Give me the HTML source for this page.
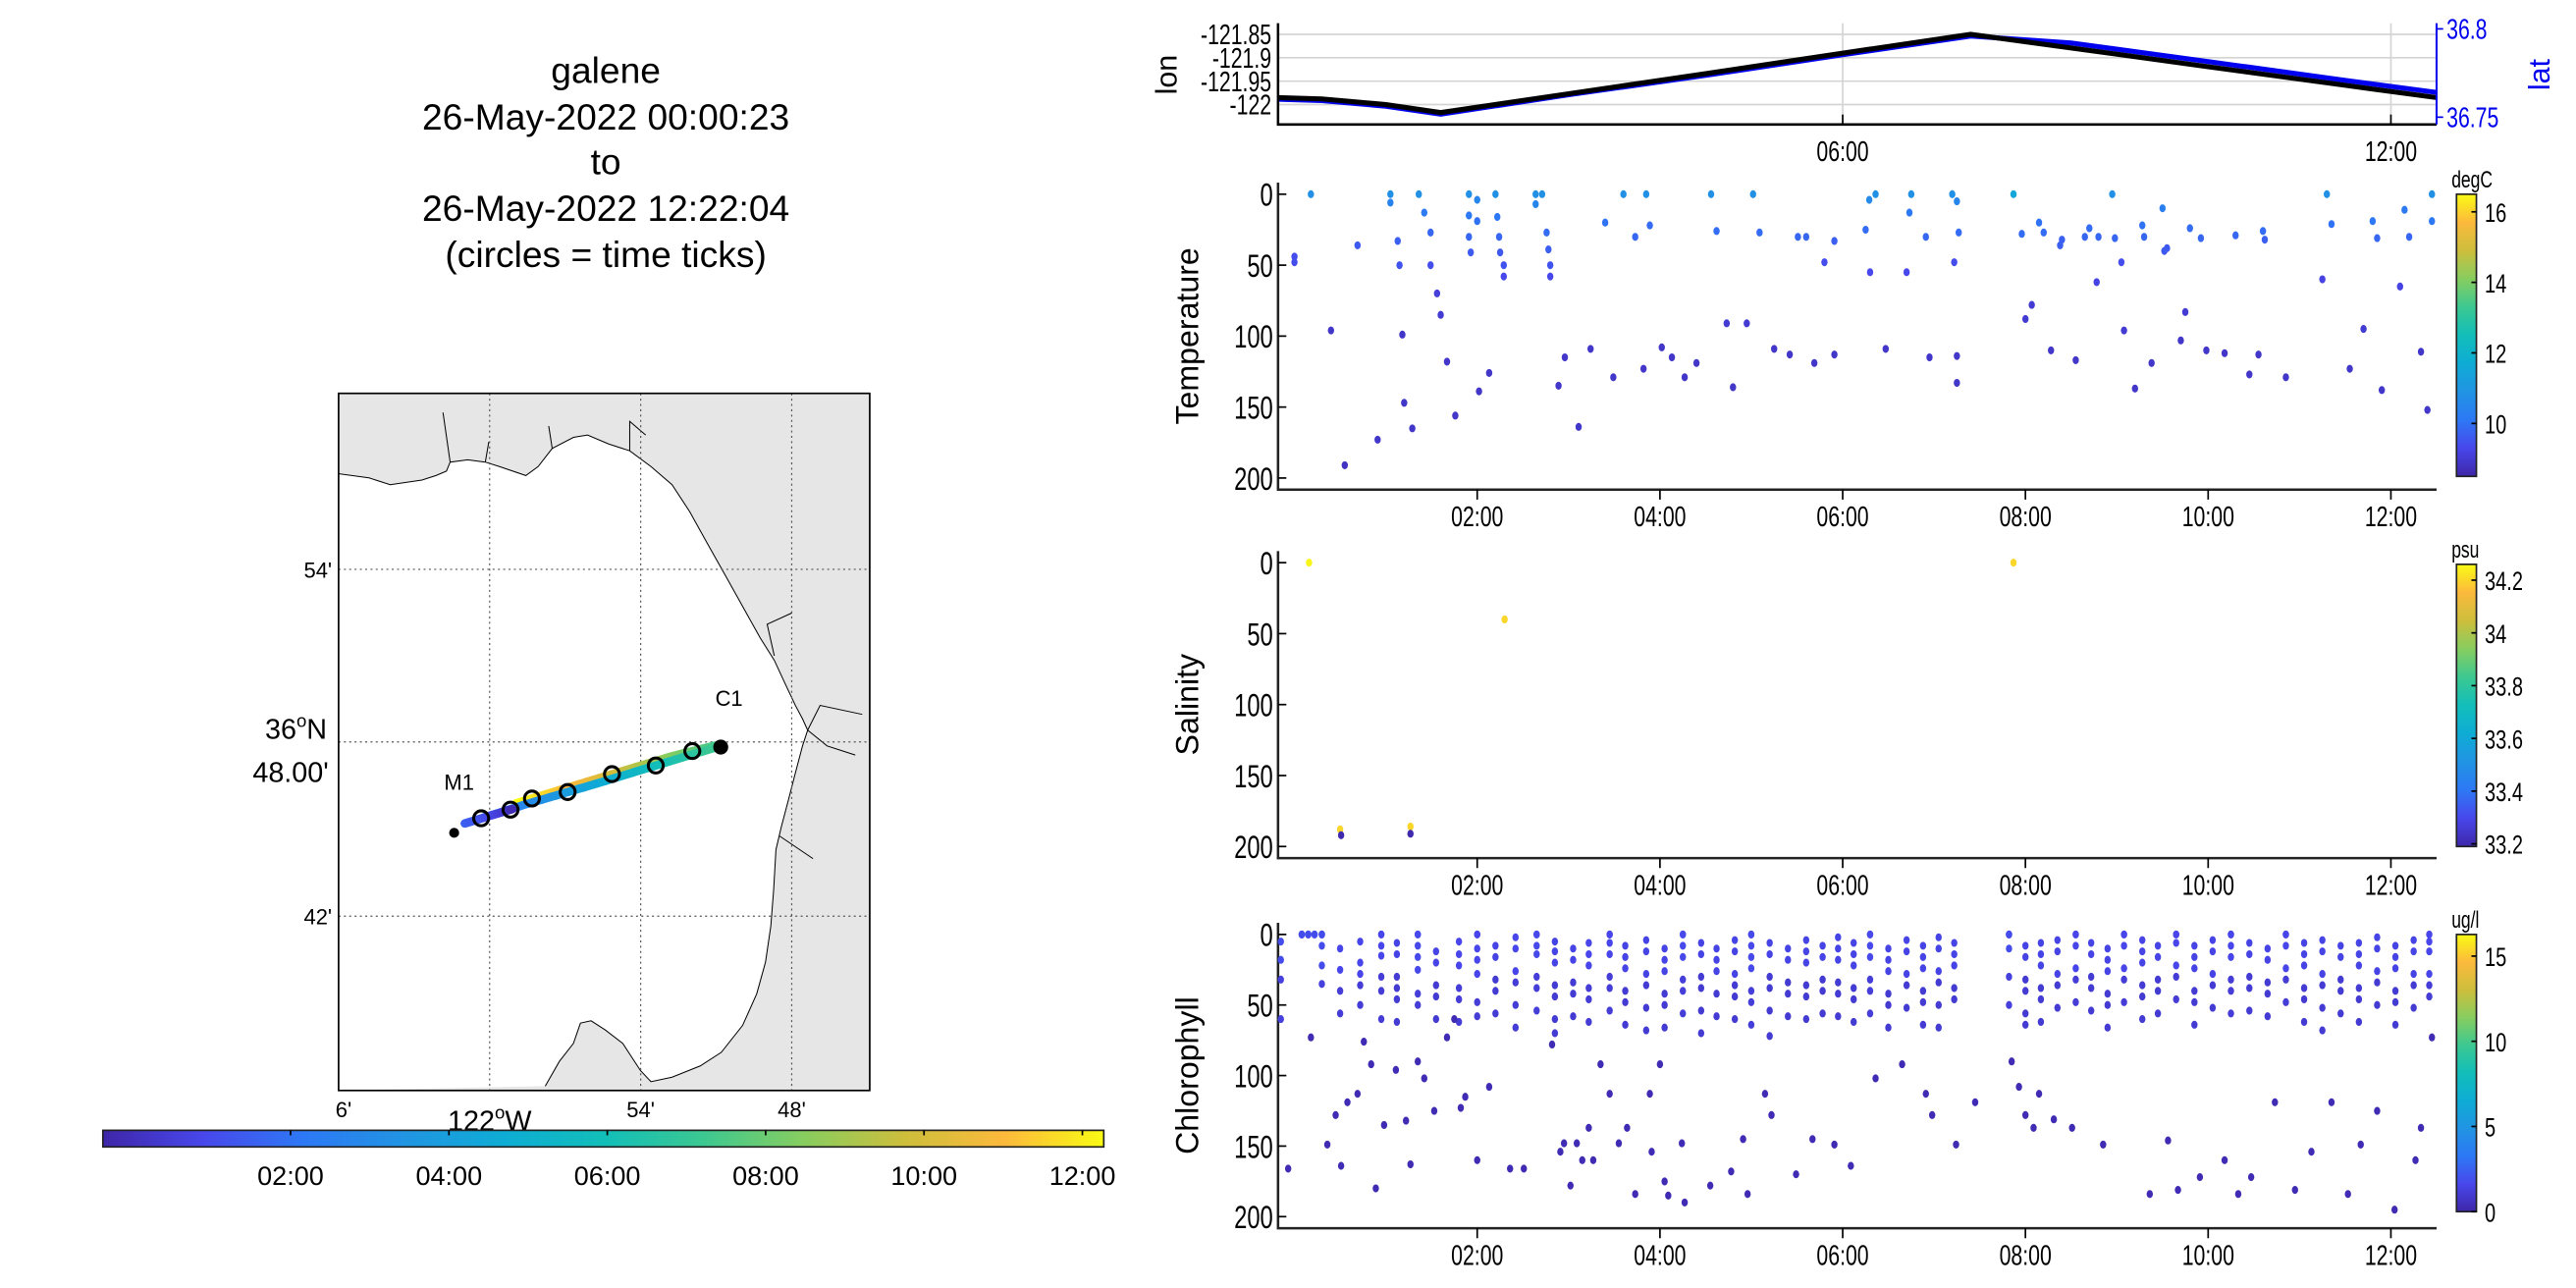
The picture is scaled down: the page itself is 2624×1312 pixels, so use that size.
<!DOCTYPE html>
<html><head><meta charset="utf-8"><title>galene chart</title>
<style>
html,body{margin:0;padding:0;background:#fff;}
svg{display:block;font-family:"Liberation Sans",sans-serif;}
</style></head>
<body>
<svg id="root" xmlns="http://www.w3.org/2000/svg" width="2624" height="1312" viewBox="0 0 1552 776">
<rect x="0" y="0" width="1552" height="776" fill="#fff"/>
<g font-family="Liberation Sans, sans-serif" font-size="22" text-anchor="middle" fill="#000">
<text x="365" y="50">galene</text>
<text x="365" y="78">26-May-2022 00:00:23</text>
<text x="365" y="105">to</text>
<text x="365" y="133">26-May-2022 12:22:04</text>
<text x="365" y="161">(circles = time ticks)</text>
</g>
<g id="map"></g>
<g id="hcbar"></g>
<g id="top"></g>
<g id="temp"></g>
<g id="sal"></g>
<g id="chl"></g>
</svg>
<script>
// ---- data ----
const trackTimes = [-0.18, 0.3, 1.0, 1.6, 3.0, 4.5, 6.0, 7.4, 8.5, 10.0, 11.5, 12.5];
const trackLon = [-121.985, -121.988, -122.0, -122.017, -121.977, -121.934, -121.890, -121.85, -121.879, -121.919, -121.959, -121.985];
const trackLat = [36.7611, 36.7603, 36.7571, 36.7526, 36.7636, 36.7746, 36.7863, 36.7969, 36.7906, 36.7801, 36.7695, 36.7626];
const timeTickHours = [0, 2, 4, 6, 8, 10, 12];
const timeTickLabels = ["02:00", "04:00", "06:00", "08:00", "10:00", "12:00"];
const topTickHours = [6, 12];
const topTickLabels = ["06:00", "12:00"];
const lonTicks = [-121.85, -121.9, -121.95, -122];
const lonTickLabels = ["-121.85", "-121.9", "-121.95", "-122"];
const latTicks = [36.8, 36.75];
const latTickLabels = ["36.8", "36.75"];
const depthTicks = [0, 50, 100, 150, 200];
const tempCbTicks = [16, 14, 12, 10];
const salCbTicks = [34.2, 34, 33.8, 33.6, 33.4, 33.2];
const chlCbTicks = [15, 10, 5, 0];
// temperature observations [hour, depth m, degC]
const tempObs = [[0,44,9.4],[0,48,9.4],[0.18,0,10.8],[0.4,96,8.9],[0.55,191,8.8],[0.69,36,9.6],[0.91,173,8.9],
[1.05,0,10.8],[1.05,6,10.4],[1.13,33,9.7],[1.15,50,9.5],[1.18,99,8.9],[1.2,147,8.9],[1.29,165,8.9],
[1.36,0,10.8],[1.42,13,10.2],[1.49,27,9.8],[1.49,50,9.4],[1.56,70,9.1],[1.6,85,9.0],[1.67,118,8.9],[1.76,156,8.9],
[1.91,0,10.8],[1.91,15,10.1],[1.91,30,9.8],[1.93,41,9.6],[2,4,10.5],[2,19,10],[2.02,139,8.9],[2.13,126,8.9],
[2.2,0,10.8],[2.22,16,10.1],[2.24,30,9.8],[2.25,41,9.6],[2.29,50,9.5],[2.29,58,9.3],
[2.64,0,10.8],[2.64,7,10.5],[2.71,0,10.8],[2.76,27,9.9],[2.78,39,9.7],[2.8,50,9.5],[2.8,58,9.3],
[2.89,135,8.9],[2.96,115,8.9],[3.11,164,8.9],[3.24,109,8.9],[3.4,20,10],[3.49,129,8.9],[3.6,0,10.8],[3.73,30,9.8],
[3.82,123,8.9],[3.85,0,10.8],[3.89,22,9.9],[4.02,108,8.9],[4.13,115,8.9],[4.27,129,8.9],[4.4,119,8.9],
[4.56,0,10.8],[4.62,26,9.9],[4.73,91,9.0],[4.8,136,8.9],[4.95,91,9.0],[5.02,0,10.8],[5.09,27,9.9],
[5.25,109,8.9],[5.42,113,8.9],[5.51,30,9.8],[5.6,30,9.8],[5.69,119,8.9],[5.91,33,9.7],[5.91,113,8.9],[5.8,48,9.4],
[6.25,25,9.9],[6.29,4,10.6],[6.36,0,10.8],[6.47,109,8.9],[6.3,55,9.3],[6.73,13,10.1],[6.75,0,10.8],[6.91,30,9.8],[6.95,115,8.9],
[6.7,55,9.3],[7.2,0,10.8],[7.25,5,10.5],[7.22,48,9.4],[7.27,27,9.9],[7.25,114,8.9],[7.25,133,8.9],
[7.87,0,11.5],[7.96,28,9.9],[8.0,88,9.0],[8.07,78,9.0],[8.15,20,10.0],[8.2,27,9.9],[8.28,110,8.9],[8.38,36,9.7],[8.4,32,9.7],
[8.55,117,8.9],[8.65,30,9.8],[8.7,24,9.9],[8.78,62,9.2],[8.8,30,9.8],[8.95,0,10.8],[8.98,31,9.8],[9.05,48,9.4],[9.08,96,9.0],
[9.2,137,8.9],[9.28,22,10],[9.3,30,9.8],[9.38,119,8.9],[9.5,10,10.3],[9.52,40,9.6],[9.55,38,9.6],[9.7,103,8.9],[9.75,83,9.0],
[9.8,24,9.9],[9.92,31,9.8],[9.98,110,8.9],[10.18,112,8.9],[10.3,29,9.8],[10.45,127,8.9],[10.55,113,8.9],[10.6,26,9.9],[10.62,32,9.7],
[10.85,129,8.9],[11.25,60,9.2],[11.3,0,10.8],[11.35,21,10],[11.55,123,8.9],[11.7,95,9.0],[11.8,19,10.1],[11.85,31,9.8],[11.9,138,8.9],
[12.1,65,9.2],[12.15,11,10.2],[12.2,30,9.8],[12.33,111,8.9],[12.4,152,8.9],[12.45,19,10.1],[12.45,0,10.8]];
// salinity observations [hour, depth m, psu]
const salObs = [[0.16,0,34.25],[2.3,40,34.2],[7.87,0,34.2],[0.5,188,34.2],[0.51,192,33.2],[1.27,186,34.2],[1.27,191,33.2]];
// chlorophyll casts [hour, chl ug/l, depths m]
const chlCasts = [
[0.08,1.8,[0,0,0]],[0.15,1.8,[0,0,0]],[0.22,1.8,[0,0]],[0.3,1.8,[0,0,0,8,22,35]],[-0.15,1.8,[5,18,32,60]],
[0.5,1.6,[10,25,40,56]],[0.72,1.6,[5,20,28,36,50]],[0.95,1.6,[0,0,8,15,30,40,60]],[1.12,1.5,[6,14,30,38,46,62]],
[1.35,1.7,[0,0,8,16,25,42,50]],[1.55,1.5,[12,20,36,44,60]],[1.8,1.6,[5,14,22,38,46,62]],[2.0,1.6,[0,0,10,18,28,48,58]],
[2.2,1.5,[8,16,32,40,56]],[2.42,1.6,[2,10,26,34,50,66]],[2.65,1.7,[0,0,8,14,30,38,54]],[2.85,1.5,[5,12,20,36,44,60,70]],
[3.05,1.5,[10,18,34,42,58]],[3.22,1.6,[6,14,22,38,46,62]],[3.45,1.6,[0,0,6,14,30,38,54]],[3.62,1.5,[8,16,24,40,48,64]],
[3.85,1.5,[4,12,28,36,52,68]],[4.05,1.5,[10,18,26,42,50,66]],[4.25,1.7,[0,0,8,16,32,40,56]],[4.45,1.5,[6,14,30,38,54,70]],
[4.62,1.5,[10,18,26,42,58]],[4.82,1.5,[4,12,28,36,44,60]],[5.0,1.7,[0,0,8,16,24,40,48,64]],[5.2,1.5,[6,14,30,38,54,72]],
[5.4,1.5,[10,18,34,42,58]],[5.6,1.5,[4,12,20,36,44,60]],[5.78,1.5,[8,16,32,40,56]],[5.95,1.5,[2,10,18,34,42,58]],
[6.12,1.5,[6,14,22,38,46,62]],[6.3,1.7,[0,0,8,16,32,40,56]],[6.5,1.5,[10,18,26,42,50,66]],[6.7,1.5,[4,12,28,36,52]],
[6.88,1.5,[8,16,24,40,48,64]],[7.05,1.5,[2,10,26,34,50,66]],[7.22,1.5,[6,14,22,38,46]],
[7.82,1.8,[0,0,0,10,30,50]],[8.0,1.5,[8,16,32,40,56,64]],[8.17,1.5,[6,14,22,38,46,62]],[8.35,1.5,[4,12,28,36,52]],
[8.55,1.6,[0,0,8,24,32,48]],[8.72,1.5,[6,14,30,38,54]],[8.9,1.5,[10,18,26,42,50,66]],[9.08,1.6,[0,0,8,24,32,48]],
[9.28,1.5,[4,12,20,36,44,60]],[9.45,1.5,[8,16,32,40,56]],[9.65,1.6,[0,0,6,22,30,46]],[9.85,1.5,[8,16,24,40,48,64]],
[10.05,1.5,[4,12,28,36,52]],[10.25,1.6,[0,0,8,16,32,40,56]],[10.45,1.5,[6,14,30,38,54]],[10.65,1.5,[10,18,34,42,58]],
[10.85,1.6,[0,0,8,24,32,48]],[11.05,1.5,[6,14,22,38,46,62]],[11.25,1.5,[4,12,28,36,52,68]],[11.45,1.5,[8,16,32,40,56]],
[11.65,1.5,[6,14,22,38,46,62]],[11.85,1.5,[2,10,26,34,50]],[12.05,1.5,[8,16,24,40,48,64]],[12.25,1.5,[4,12,28,36,52]],
[12.42,1.6,[0,5,12,28,36,44]]];
const chlDeep = [[-0.07,166],[0.18,73],[0.36,149],[0.45,128],[0.51,164],[0.58,119],[0.69,113],[0.76,76],[0.84,92],[0.89,180],[0.98,135],
[1.11,96],[1.22,132],[1.27,163],[1.35,90],[1.42,102],[1.53,125],[1.67,73],[1.75,60],[1.82,123],[1.87,115],[2,160],[2.13,108],[2.36,166],
[2.51,166],[2.82,78],[2.91,154],[2.95,148],[3.02,178],[3.09,148],[3.15,160],[3.22,137],[3.27,160],[3.35,92],[3.45,113],[3.55,148],
[3.64,137],[3.73,184],[3.89,113],[3.91,154],[4,92],[4.05,175],[4.09,185],[4.24,148],[4.27,190],[4.55,178],[4.78,168],[4.91,145],
[4.96,184],[5.15,113],[5.22,128],[5.49,170],[5.67,145],[5.91,149],[6.09,164],[6.36,102],[6.65,92],[6.91,113],[6.98,128],[7.24,149],
[7.45,119],[7.85,90],[7.93,108],[8,128],[8.09,137],[8.15,113],[8.31,131],[8.51,137],[8.85,149],[9.36,184],[9.56,146],[9.67,181],
[9.91,172],[10.18,160],[10.33,184],[10.47,172],[10.73,119],[10.95,181],[11.13,154],[11.35,119],[11.53,184],[11.67,149],[11.85,125],
[12.04,195],[12.27,160],[12.33,137],[12.45,73]];
const mooringLon = [-122.018, -121.847];
const mooringLat = [36.756, 36.797];
const mooringNames = ["M1", "C1"];

// ---- helpers ----
const NS = "http://www.w3.org/2000/svg";
function mk(parent, tag, attrs, text) {
  const e = document.createElementNS(NS, tag);
  for (const k in attrs) e.setAttribute(k, attrs[k]);
  if (text !== undefined) e.textContent = text;
  parent.appendChild(e);
  return e;
}
function ctext(parent, x, y, size, anchor, txt, fill) {
  return mk(parent, "text", {x: 0, y: 0, "font-size": size, "text-anchor": anchor, fill: fill || "#000", transform: `translate(${x},${y}) scale(0.74,1)`}, txt);
}
const PAR = [[0,[62,38,168]],[0.1,[72,71,235]],[0.2,[45,120,245]],[0.3,[33,148,227]],[0.4,[14,172,212]],[0.5,[18,190,185]],[0.6,[60,200,145]],[0.7,[135,205,95]],[0.8,[205,190,60]],[0.9,[252,185,60]],[1,[249,251,20]]];
function parula(f) {
  f = Math.max(0, Math.min(1, f));
  for (let i = 1; i < PAR.length; i++) {
    if (f <= PAR[i][0]) {
      const a = PAR[i-1], b = PAR[i], u = (f - a[0]) / (b[0] - a[0]);
      const c = a[1].map((v, j) => Math.round(v + (b[1][j] - v) * u));
      return "rgb(" + c.join(",") + ")";
    }
  }
  return "rgb(249,251,20)";
}
function interp(xs, ys, x) {
  if (x <= xs[0]) return ys[0];
  for (let i = 1; i < xs.length; i++) if (x <= xs[i]) { const u = (x - xs[i-1]) / (xs[i] - xs[i-1]); return ys[i-1] + (ys[i] - ys[i-1]) * u; }
  return ys[ys.length-1];
}
const T0 = -0.18, T1 = 12.5, PX0 = 770, PX1 = 1468;
const tx = t => PX0 + (t - T0) / (T1 - T0) * (PX1 - PX0);

// ---- top lon/lat panel ----
(function(){
  const g = document.getElementById("top");
  const y0 = 14, y1 = 75;
  const ly = v => 20.7 + (-121.85 - v) / 0.15 * 42.3;
  const ay = v => 17.4 + (36.8 - v) / 0.05 * 53.2;
  lonTicks.forEach((v, i) => {
    const l = mk(g, "line", {x1: PX0, x2: PX1, y1: ly(v), y2: ly(v), stroke: "#d4d4d4", "stroke-width": 1});
    
    
    const t = ctext(g, PX0 - 4, ly(v) + 6, 17, "end", lonTickLabels[i]);
    
    
  });
  topTickHours.forEach((h, i) => {
    const l = mk(g, "line", {x1: tx(h), x2: tx(h), y1: y0, y2: y1, stroke: "#d4d4d4", "stroke-width": 1});
    
    
    const k = mk(g, "line", {x1: tx(h), x2: tx(h), y1: y1, y2: y1 - 6, stroke: "#000", "stroke-width": 1});
    
    
    const t = ctext(g, tx(h), 97, 17, "middle", topTickLabels[i]);
    
    
  });
  const latPts = trackTimes.map((t, i) => tx(t).toFixed(1) + "," + (ay(trackLat[i]) + (t > 7.4 ? -1.5 : 1)).toFixed(1)).join(" ");
  const lonPts = trackTimes.map((t, i) => tx(t).toFixed(1) + "," + ly(trackLon[i]).toFixed(1)).join(" ");
  const cp = mk(g, "clipPath", {id: "topclip"});
  mk(cp, "rect", {x: PX0, y: y0, width: PX1 - PX0, height: y1 - y0});
  const pl2 = mk(g, "polyline", {points: latPts, fill: "none", stroke: "#0000ee", "stroke-width": 3, "clip-path": "url(#topclip)"});
  
  
  const pl = mk(g, "polyline", {points: lonPts, fill: "none", stroke: "#000", "stroke-width": 3, "clip-path": "url(#topclip)"});
  
  
  const ax = mk(g, "path", {d: `M${PX0},${y0} V${y1} H${PX1}`, fill: "none", stroke: "#000", "stroke-width": 1.5});
  
  
  const rax = mk(g, "line", {x1: PX1, x2: PX1, y1: y0, y2: y1, stroke: "#0000ee", "stroke-width": 1.2});
  
  
  latTicks.forEach((v, i) => {
    const k = mk(g, "line", {x1: PX1, x2: PX1 + 4, y1: ay(v), y2: ay(v), stroke: "#0000ee"});
    
    
    const t = ctext(g, PX1 + 6, ay(v) + 6, 17, "start", latTickLabels[i], "#0000ee");
    
    
  });
  const yl = mk(g, "text", {x: 0, y: 0, "font-size": 18, "text-anchor": "middle", transform: "translate(709,45) rotate(-90)"}, "lon");
  
  
  const yr = mk(g, "text", {x: 0, y: 0, "font-size": 18, "text-anchor": "middle", fill: "#0000ee", transform: "translate(1536,45) rotate(-90)"}, "lat");
  
  
})();

// ---- depth scatter panels ----
function depthPanel(id, title, top, bottom, d0y, d200y, cbTop, cbBot, vmin, vmax, cbTicks, unit) {
  const g = document.getElementById(id);
  const dy = d => d0y + d / 200 * (d200y - d0y);
  const ax = mk(g, "path", {d: `M${PX0},${top} V${bottom} H${PX1}`, fill: "none", stroke: "#222", "stroke-width": 1.5});
  
  
  depthTicks.forEach(d => {
    const k = mk(g, "line", {x1: PX0, x2: PX0 + 5, y1: dy(d), y2: dy(d), stroke: "#000"});
    
    
    const t = ctext(g, PX0 - 3, dy(d) + 7, 19, "end", String(d));
    
    
  });
  timeTickHours.slice(1).forEach((h, i) => {
    const k = mk(g, "line", {x1: tx(h), x2: tx(h), y1: bottom, y2: bottom + 6, stroke: "#000"});
    
    
    const t = ctext(g, tx(h), bottom + 22, 17, "middle", timeTickLabels[i]);
    
    
  });
  const yl = mk(g, "text", {x: 0, y: 0, "font-size": 19, "text-anchor": "middle", transform: `translate(722,${(top + bottom) / 2}) rotate(-90)`}, title);
  
  
  const gid = id + "grad";
  const lg = mk(g, "linearGradient", {id: gid, x1: 0, y1: 1, x2: 0, y2: 0});
  for (let i = 0; i <= 20; i++) mk(lg, "stop", {offset: i / 20, "stop-color": parula(i / 20)});
  const cb = mk(g, "rect", {x: 1480, y: cbTop, width: 12, height: cbBot - cbTop, fill: `url(#${gid})`, stroke: "#222", "stroke-width": 1});
  
  
  const cy = v => cbBot - (v - vmin) / (vmax - vmin) * (cbBot - cbTop);
  cbTicks.forEach(v => {
    const k = mk(g, "line", {x1: 1489, x2: 1492, y1: cy(v), y2: cy(v), stroke: "#000"});
    
    
    const t = ctext(g, 1497, cy(v) + 6, 16, "start", String(v));
    
    
  });
  const u = ctext(g, 1477, cbTop - 4, 14, "start", unit);
  
  
  return {g, dy, col: v => parula((v - vmin) / (vmax - vmin))};
}
function dot(g, x, y, c, name) {
  const e = mk(g, "ellipse", {cx: x.toFixed(1), cy: y.toFixed(1), rx: 1.9, ry: 2.4, fill: c});
  
  
}
(function(){
  const P = depthPanel("temp", "Temperature", 110, 295, 117, 288, 117, 287, 8.5, 16.5, tempCbTicks, "degC");
  tempObs.forEach(o => dot(P.g, tx(o[0]), P.dy(o[1]), P.col(o[2]), 'temperature-point'));
  const S = depthPanel("sal", "Salinity", 332, 517, 339, 510, 340, 510, 33.19, 34.26, salCbTicks, "psu");
  salObs.forEach(o => dot(S.g, tx(o[0]), S.dy(o[1]), S.col(o[2]), 'salinity-point'));
  const C = depthPanel("chl", "Chlorophyll", 556, 740, 563, 733, 563, 730, 0, 16.27, chlCbTicks, "ug/l");
  chlCasts.forEach(c => c[2].forEach(d => dot(C.g, tx(c[0]), C.dy(d), C.col(d < 30 ? c[1] : c[1] * 0.7), 'chlorophyll-point')));
  chlDeep.forEach(o => dot(C.g, tx(o[0]), C.dy(o[1]), C.col(0.3), 'chlorophyll-point'));
})();

// ---- map ----
(function(){
  const g = document.getElementById("map");
  const L = 204, R = 524, Tp = 237, B = 657;
  const mx = lon => 295 + (lon + 122.0) * 910;
  const my = lat => 447 - (lat - 36.8) * 1040;
  const zx = v => 201.1 + v * 0.2123, zy = v => 343 + (v - 388) * 0.2715;
  const cp = mk(g, "clipPath", {id: "mapclip"});
  mk(cp, "rect", {x: L, y: Tp, width: R - L, height: B - Tp});
  const land = mk(g, "rect", {x: L, y: Tp, width: R - L, height: B - Tp, fill: "#e6e6e6"});
  
  
  const coast = [[5,175],[100,185],[160,200],[250,190],[290,180],[320,170],[330,150],[380,145],[430,150],[470,160],[545,180],[580,160],[620,120],[680,95],[720,90],[780,110],[840,125],[900,160],[960,200],[1010,260],[1060,330],[1110,400],[1160,470],[1210,540],[1250,590],[1280,640],[1310,690],[1330,720],[1345,745],[1330,780],[1310,840],[1290,900],[1270,960],[1255,1010],[1248,1100],[1240,1180],[1225,1260],[1200,1330],[1160,1400],[1100,1460],[1040,1490],[960,1515],[900,1525],[870,1500],[820,1440],[770,1410],[730,1390],[700,1395],[680,1440],[640,1480],[600,1535]];
  const pts = coast.map(p => zx(p[0]).toFixed(1) + "," + zy(p[1]).toFixed(1));
  const water = mk(g, "polygon", {points: pts.join(" ") + ` ${L},${B} ${L},${zy(175).toFixed(1)}`, fill: "#fff", "clip-path": "url(#mapclip)"});
  
  
  const cl = mk(g, "polyline", {points: pts.join(" "), fill: "none", stroke: "#000", "stroke-width": 0.6, "clip-path": "url(#mapclip)"});
  
  
  const rivers = [[[330,150],[310,40]],[[430,150],[440,105]],[[620,120],[610,70]],[[840,125],[840,60],[885,90]],[[1250,580],[1230,510],[1300,485]],[[1345,745],[1380,690],[1500,710]],[[1345,745],[1400,780],[1480,800]],[[1265,980],[1360,1030]]];
  rivers.forEach(r => {
    const p = mk(g, "polyline", {points: r.map(q => zx(q[0]).toFixed(1) + "," + zy(q[1]).toFixed(1)).join(" "), fill: "none", stroke: "#000", "stroke-width": 0.6, "clip-path": "url(#mapclip)"});
    
    
  });
  [295, 386, 477].forEach(x => {
    const l = mk(g, "line", {x1: x, x2: x, y1: Tp, y2: B, stroke: "#555", "stroke-width": 0.7, "stroke-dasharray": "1.2,2"});
    
    
  });
  [343, 447, 552].forEach(y => {
    const l = mk(g, "line", {x1: L, x2: R, y1: y, y2: y, stroke: "#555", "stroke-width": 0.7, "stroke-dasharray": "1.2,2"});
    
    
  });
  const box = mk(g, "rect", {x: L, y: Tp, width: R - L, height: B - Tp, fill: "none", stroke: "#000", "stroke-width": 1});
  
  
  const steps = 200;
  const c0 = -0.37, c1 = 12.27;
  const latAt = t => interp(trackTimes, trackLat, t) + (t > 7.4 ? 0.0012 : 0);
  for (let i = steps - 1; i >= 0; i--) {
    const ta = T0 + (12.4 - T0) * i / steps, tb = T0 + (12.4 - T0) * (i + 1) / steps;
    const s = mk(g, "line", {x1: mx(interp(trackTimes, trackLon, ta)).toFixed(1), y1: my(latAt(ta)).toFixed(1), x2: mx(interp(trackTimes, trackLon, tb)).toFixed(1), y2: my(latAt(tb)).toFixed(1), stroke: parula((ta - c0) / (c1 - c0)), "stroke-width": 5, "stroke-linecap": "round"});
    
    
  }
  timeTickHours.forEach(h => {
    const c = mk(g, "circle", {cx: mx(interp(trackTimes, trackLon, h)).toFixed(1), cy: my(latAt(h)).toFixed(1), r: 4.5, fill: "none", stroke: "#000", "stroke-width": 1.8});
    
    
  });
  mooringNames.forEach((n, i) => {
    const x = mx(mooringLon[i]), y = my(mooringLat[i]);
    const d = mk(g, "circle", {cx: i === 0 ? x - 5 : x, cy: i === 0 ? y + 9 : y, r: i === 0 ? 3 : 4.5, fill: "#000"});
    
    
    const t = mk(g, "text", {x: i === 0 ? x - 2 : x + 5, y: i === 0 ? y - 17 : y - 25, "font-size": 13, "text-anchor": "middle"}, n);
    
    
  });
  const lab = (x, y, s, txt, anchor, name) => {
    const t = mk(g, "text", {x, y, "font-size": s, "text-anchor": anchor}, txt);
    
    
    return t;
  };
  lab(200, 348, 13, "54'", "end", 'lat-tick-label');
  lab(200, 557, 13, "42'", "end", 'lat-tick-label');
  const la = lab(197, 445, 17, "36", "end", 'lat-tick-label');
  la.innerHTML = '36<tspan dy="-7" font-size="11">o</tspan><tspan dy="7">N</tspan>';
  lab(198, 471, 17, "48.00'", "end", 'lat-tick-label');
  lab(207, 673, 13, "6'", "middle", 'lon-tick-label');
  const lo = lab(295, 681, 17, "122", "middle", 'lon-tick-label');
  lo.innerHTML = '122<tspan dy="-7" font-size="11">o</tspan><tspan dy="7">W</tspan>';
  lab(386, 673, 13, "54'", "middle", 'lon-tick-label');
  lab(477, 673, 13, "48'", "middle", 'lon-tick-label');
})();

// ---- horizontal time colorbar ----
(function(){
  const g = document.getElementById("hcbar");
  const x0 = 62, x1 = 665, c0 = -0.37, c1 = 12.27;
  const lg = mk(g, "linearGradient", {id: "hgrad", x1: 0, y1: 0, x2: 1, y2: 0});
  for (let i = 0; i <= 20; i++) mk(lg, "stop", {offset: i / 20, "stop-color": parula(i / 20)});
  const r = mk(g, "rect", {x: x0, y: 681, width: x1 - x0, height: 10, fill: "url(#hgrad)", stroke: "#222", "stroke-width": 1});
  
  
  const hx = h => x0 + (h - c0) / (c1 - c0) * (x1 - x0);
  timeTickHours.slice(1).forEach((h, i) => {
    const k = mk(g, "line", {x1: hx(h), x2: hx(h), y1: 681, y2: 684, stroke: "#000"});
    
    
    const t = mk(g, "text", {x: hx(h), y: 714, "font-size": 16, "text-anchor": "middle"}, timeTickLabels[i]);
    
    
  });
})();
</script>
</body></html>
